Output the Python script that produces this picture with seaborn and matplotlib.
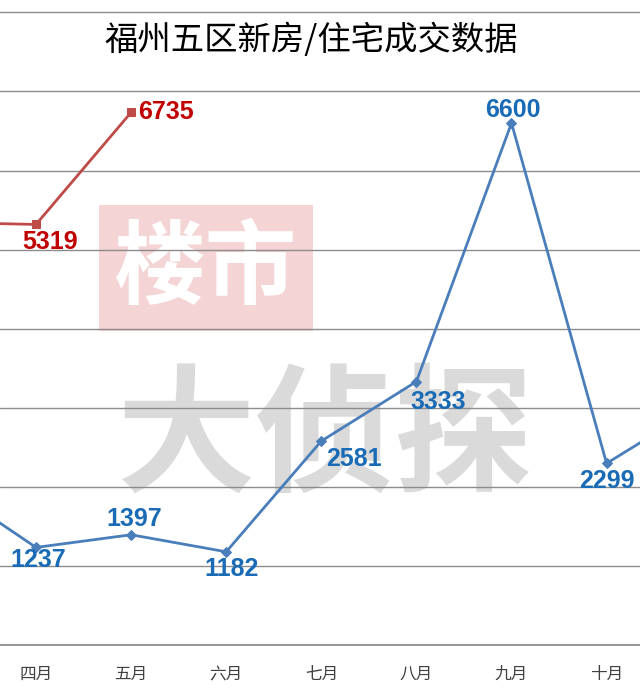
"""
Fuzhou five-district new housing sales, monthly line chart (cropped view).
"""

import matplotlib
matplotlib.use('Agg')
import matplotlib.pyplot as plt
from matplotlib.patches import Rectangle
import pandas as pd
import seaborn as sns

# data; 三月 and 十一月 sit just outside the visible window
months = ['三月', '四月', '五月', '六月', '七月', '八月', '九月', '十月', '十一月']
blue_values = [2050, 1237, 1397, 1182, 2581, 3333, 6600, 2299, 3040]
red_values = [5345, 5319, 6735]
blue_labels = [None, '1237', '1397', '1182', '2581', '3333', '6600', '2299', None]
red_labels = [None, '5319', '6735']

# label offsets in pixels (dx, dy) relative to the marker
blue_offsets = [None, (2, -13), (3, 16), (5, -17), (33, -18), (22, -20), (1, 13), (0, -18), None]
red_offsets = [None, (14, -18), (7, 0)]

BLUE_LINE = '#4a7ebb'
BLUE_TEXT = '#1a6bb5'
RED_LINE = '#be4b48'
RED_TEXT = '#c00000'

sns.set_style('white')
plt.rcParams['font.family'] = ['Noto Sans CJK SC', 'DejaVu Sans']

fig = plt.figure(figsize=(6.4, 6.91), dpi=100)
ax = fig.add_axes([0, 45.7 / 691, 1, 645.3 / 691])

blue_df = pd.DataFrame({'x': range(len(blue_values)), 'y': blue_values})
red_df = pd.DataFrame({'x': range(len(red_values)), 'y': red_values})

sns.lineplot(data=blue_df, x='x', y='y', ax=ax, color=BLUE_LINE, linewidth=2,
             marker='D', markersize=5, markeredgecolor=BLUE_LINE, zorder=3)
sns.lineplot(data=red_df, x='x', y='y', ax=ax, color=RED_LINE, linewidth=2,
             marker='s', markersize=6, markeredgecolor=RED_LINE, zorder=3)

def add_labels(df, labels, offsets, color):
    for (x, y), lab, off in zip(df[['x', 'y']].values, labels, offsets):
        if lab is None:
            continue
        ha = 'left' if off == (7, 0) else 'center'
        ax.annotate(lab, (x, y), xytext=off, textcoords='offset pixels',
                    ha=ha, va='center', color=color, fontsize=18,
                    fontweight='bold', family=['Liberation Sans', 'DejaVu Sans'],
                    zorder=4)

add_labels(blue_df, blue_labels, blue_offsets, BLUE_TEXT)
add_labels(red_df, red_labels, red_offsets, RED_TEXT)

ax.set_yticks(range(0, 8001, 1000))
ax.set_yticklabels([])
ax.set_xticks(range(len(months)))
ax.set_xticklabels(months, fontsize=12, color='#404040')
# visible window: 四月 at x=36px, 95.1px per month
ax.set_xlim(1 - 36 / 95.1, 1 + 604 / 95.1)
ax.set_ylim(0, 8000 + 12.3 / 79.1 * 1000)
ax.tick_params(axis='x', direction='out', length=7, color='#888888', pad=8)
ax.tick_params(axis='y', length=0)
ax.set_xlabel('')
ax.set_ylabel('')

ax.set_axisbelow(True)
ax.grid(axis='y', color='#8c8c8c', linewidth=1)
for side in ['left', 'right', 'top']:
    ax.spines[side].set_visible(False)
ax.spines['bottom'].set_color('#888888')
ax.spines['bottom'].set_linewidth(1.2)

# watermarks, kept under the grid and the lines
ax.add_patch(Rectangle((99 / 640, 1 - 331 / 691), 214 / 640, 126 / 691,
                       transform=fig.transFigure, facecolor='#f4d4d4',
                       edgecolor='none', zorder=0))
ax.text(206 / 640, 1 - 270 / 691, '楼市', transform=fig.transFigure,
        fontsize=66, fontweight='bold', color='white',
        ha='center', va='center', zorder=0.1)
ax.text(325 / 640, 1 - 440 / 691, '大侦探', transform=fig.transFigure,
        fontsize=100, fontweight='bold', color='#dadada',
        ha='center', va='center', zorder=0.1)

fig.text(311 / 640, 1 - 40 / 691, '福州五区新房/住宅成交数据', fontsize=24,
         color='black', ha='center', va='center')

fig.savefig('out.png', dpi=100)
